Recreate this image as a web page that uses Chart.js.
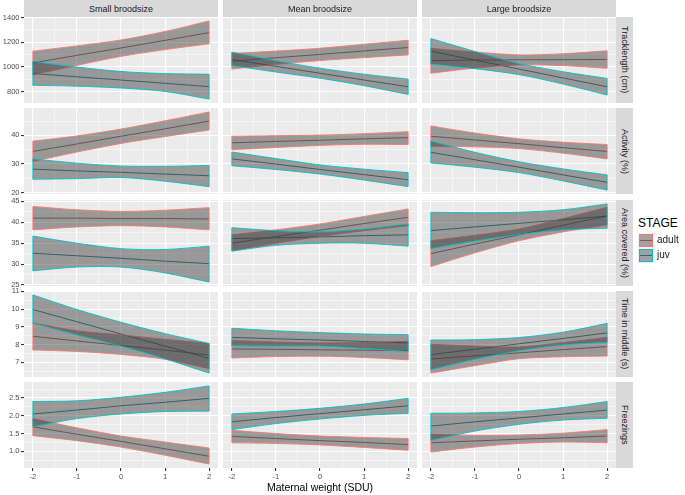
<!DOCTYPE html>
<html>
<head>
<meta charset="utf-8">
<script src="https://cdn.jsdelivr.net/npm/chart.js@4.4.1/dist/chart.umd.min.js"></script>
<style>
  body { margin: 0; background: #fff; }
  #plot { position: relative; width: 685px; height: 495px; overflow: hidden; font-family: "Liberation Sans", Arial, sans-serif; }
  #plot canvas { position: absolute; }
  .strip { position: absolute; background: #D9D9D9; color: #1A1A1A; font-size: 9px; display: flex; align-items: center; justify-content: center; }
  .rstrip { writing-mode: vertical-rl; }
  .xtitle { position: absolute; left: 24px; width: 592px; top: 481px; text-align: center; font-size: 10.5px; color: #000; }
  .legtitle { position: absolute; left: 638px; top: 216px; font-size: 12px; color: #000; }
  .key { position: absolute; left: 638px; width: 16px; height: 15px; background: #F2F2F2; }
  .key .box { position: absolute; left: 1px; top: 1px; width: 12px; height: 11px; background: #A2A2A2; border: 1px solid; }
  .key .mid { position: absolute; left: 2px; top: 7px; width: 12px; height: 1px; }
  .keylab { position: absolute; left: 657px; font-size: 10px; color: #1A1A1A; }
</style>
</head>
<body>
<div id="plot"></div>
<script>
  const xValues = [-2, -1, 0, 1, 2];
  const xTickLabels = ['-2', '-1', '0', '1', '2'];
  const columns = ['Small broodsize', 'Mean broodsize', 'Large broodsize'];
  const rowLabels = ['Tracklength (cm)', 'Activity (%)', 'Area covered (%)', 'Time in middle (s)', 'Freezings'];
  const yTickLabels = [
    ['800', '1000', '1200', '1400'],
    ['20', '30', '40'],
    ['25', '30', '35', '40', '45'],
    ['7', '8', '9', '10', '11'],
    ['1.0', '1.5', '2.0', '2.5']
  ];

  // each: [row][column] -> values at xValues
  const adultFit = [
    [[1032, 1093, 1153, 1215, 1278], [1046, 1074, 1101, 1129, 1157], [1050, 1055, 1057, 1058, 1060]],
    [[34.4, 37.0, 39.7, 42.3, 45.0], [37.4, 37.9, 38.3, 38.8, 39.2], [39.7, 38.4, 37.1, 35.7, 34.4]],
    [[41.0, 41.0, 40.9, 40.9, 40.8], [35.0, 36.6, 38.1, 39.7, 41.2], [32.5, 34.8, 37.0, 39.3, 41.5]],
    [[8.47, 8.21, 7.95, 7.69, 7.42], [7.76, 7.74, 7.71, 7.69, 7.66], [7.19, 7.37, 7.54, 7.72, 7.89]],
    [[1.69, 1.48, 1.28, 1.07, 0.86], [1.42, 1.36, 1.30, 1.25, 1.19], [1.24, 1.29, 1.34, 1.38, 1.43]]
  ];
  const adultHi = [
    [[1127, 1170, 1218, 1287, 1373], [1108, 1128, 1151, 1183, 1216], [1150, 1120, 1097, 1106, 1130]],
    [[38.0, 39.8, 42.2, 45.1, 48.2], [39.7, 39.9, 40.1, 40.6, 41.3], [43.3, 40.8, 38.8, 37.6, 36.8]],
    [[43.8, 43.0, 42.6, 42.9, 43.5], [37.0, 38.2, 39.6, 41.4, 43.2], [35.6, 36.9, 38.4, 40.9, 43.6]],
    [[9.22, 8.78, 8.55, 8.30, 8.07], [8.23, 8.15, 8.10, 8.12, 8.19], [8.02, 7.92, 7.87, 8.12, 8.41]],
    [[1.92, 1.66, 1.43, 1.26, 1.09], [1.59, 1.50, 1.43, 1.39, 1.36], [1.48, 1.45, 1.46, 1.51, 1.61]]
  ];
  const adultLo = [
    [[935, 1012, 1085, 1140, 1187], [982, 1020, 1051, 1075, 1097], [948, 990, 1017, 1010, 988]],
    [[30.9, 34.2, 37.2, 39.6, 41.9], [35.0, 35.8, 36.5, 36.9, 36.8], [36.2, 36.0, 35.4, 33.8, 31.8]],
    [[38.2, 38.9, 39.2, 38.9, 38.2], [33.2, 35.0, 36.6, 38.0, 39.2], [29.4, 32.7, 35.6, 37.7, 39.4]],
    [[7.70, 7.62, 7.45, 7.18, 6.65], [7.25, 7.33, 7.35, 7.28, 7.15], [6.40, 6.82, 7.21, 7.32, 7.36]],
    [[1.44, 1.30, 1.12, 0.89, 0.64], [1.24, 1.22, 1.18, 1.11, 1.03], [0.98, 1.12, 1.22, 1.26, 1.24]]
  ];
  const juvFit = [
    [[946, 919, 893, 866, 839], [1059, 1004, 948, 893, 838], [1127, 1055, 982, 910, 838]],
    [[28.2, 27.6, 27.1, 26.5, 25.9], [31.8, 30.0, 28.1, 26.3, 24.5], [34.1, 31.5, 28.9, 26.2, 23.6]],
    [[32.6, 32.0, 31.4, 30.7, 30.1], [36.1, 36.3, 36.5, 36.8, 37.0], [38.0, 38.9, 39.75, 40.6, 41.5]],
    [[9.98, 9.29, 8.60, 7.92, 7.23], [8.41, 8.33, 8.26, 8.18, 8.10], [7.44, 7.74, 8.05, 8.35, 8.66]],
    [[2.05, 2.16, 2.28, 2.38, 2.49], [1.83, 1.95, 2.06, 2.17, 2.28], [1.71, 1.83, 1.94, 2.05, 2.16]]
  ];
  const juvHi = [
    [[1044, 998, 962, 945, 940], [1120, 1050, 989, 940, 900], [1230, 1125, 1027, 960, 906]],
    [[31.8, 30.3, 29.3, 29.2, 29.5], [34.2, 31.9, 29.7, 28.2, 27.0], [38.0, 34.1, 30.8, 28.3, 26.2]],
    [[36.7, 35.0, 33.7, 33.5, 34.3], [38.7, 38.0, 37.7, 38.4, 39.6], [42.4, 42.3, 42.4, 43.0, 44.4]],
    [[10.80, 9.98, 9.26, 8.62, 8.07], [8.92, 8.78, 8.68, 8.60, 8.56], [8.26, 8.28, 8.40, 8.70, 9.20]],
    [[2.40, 2.42, 2.52, 2.66, 2.84], [2.05, 2.12, 2.21, 2.33, 2.49], [2.07, 2.08, 2.12, 2.23, 2.40]]
  ];
  const juvLo = [
    [[850, 843, 828, 800, 738], [1010, 958, 908, 847, 776], [1022, 985, 937, 860, 771]],
    [[24.7, 24.9, 25.3, 24.0, 22.1], [29.4, 28.1, 26.5, 24.4, 22.1], [30.4, 28.9, 27.0, 24.1, 20.9]],
    [[28.4, 29.3, 29.3, 27.9, 25.7], [33.1, 34.5, 35.0, 35.0, 34.3], [33.7, 35.5, 37.1, 38.2, 38.6]],
    [[9.20, 8.55, 7.92, 7.20, 6.40], [7.94, 7.92, 7.92, 7.78, 7.62], [6.59, 7.18, 7.66, 7.98, 8.13]],
    [[1.69, 1.92, 2.05, 2.12, 2.13], [1.61, 1.78, 1.91, 2.01, 2.07], [1.31, 1.57, 1.76, 1.88, 1.93]]
  ];

  const adultCol = '#F8766D', juvCol = '#00BFC4';
  const adultLine = '#9A514C', juvLine = '#1B7578';
  const ribbonFill = 'rgba(60,60,60,0.47)';

  const colLeft = [24, 223, 422], panelW = 194;
  const rowTop = [17, 108, 200, 291, 382], panelH = 86;
  const pad = 6, yAxisW = 24, xAxisH = 14;
  const tickFont = { family: '"Liberation Sans", Arial, sans-serif', size: 7.5 };

  const plot = document.getElementById('plot');

  const panelBg = {
    id: 'panelBg',
    beforeDraw(chart) {
      const { ctx, chartArea: a } = chart;
      ctx.save();
      ctx.fillStyle = '#EBEBEB';
      ctx.fillRect(a.left, a.top, a.right - a.left, a.bottom - a.top);
      ctx.restore();
    }
  };

  const pts = arr => xValues.map((x, i) => ({ x: x, y: arr[i] }));

  // major ticks plus ggplot-style minor ticks half way between
  const tickSet = (majors, min, max) => {
    const step = majors[1] - majors[0];
    const out = [];
    for (let v = majors[0] - step; v <= majors[majors.length - 1] + step + 1e-9; v += step / 2) {
      const val = Math.round(v * 1e6) / 1e6;
      if (val >= min && val <= max) out.push(val);
    }
    return out;
  };
  const isMajor = (majors, v) => majors.some(m => Math.abs(m - v) < 1e-6);

  const ribbon = (hi, lo, col, order) => [
    { data: pts(hi), borderColor: col, borderWidth: 0.9, fill: '+1', backgroundColor: ribbonFill, tension: 0.3, order: order },
    { data: pts(lo), borderColor: col, borderWidth: 0.9, fill: false, tension: 0.3, order: order - 1 },
    { data: [{ x: xValues[0], y: lo[0] }, { x: xValues[0], y: hi[0] }, { x: 0, y: null },
             { x: xValues[4], y: lo[4] }, { x: xValues[4], y: hi[4] }],
      borderColor: col, borderWidth: 0.9, fill: false, spanGaps: false, order: order - 2 }
  ];

  const xMajors = xTickLabels.map(Number);
  const xMin = -2.2, xMax = 2.2;

  rowLabels.forEach((rowLabel, r) => {
    const majors = yTickLabels[r].map(Number);
    let lo = Infinity, hi = -Infinity;
    for (let c = 0; c < 3; c++) {
      lo = Math.min(lo, ...adultLo[r][c], ...juvLo[r][c]);
      hi = Math.max(hi, ...adultHi[r][c], ...juvHi[r][c]);
    }
    const yMin = lo - (hi - lo) * 0.05, yMax = hi + (hi - lo) * 0.05;
    const yTicks = tickSet(majors, yMin, yMax);
    const xTicks = tickSet(xMajors, xMin, xMax);

    columns.forEach((colLabel, c) => {
      const first = c === 0, bottom = r === rowLabels.length - 1;
      const cv = document.createElement('canvas');
      const w = panelW + (first ? yAxisW : 0);
      const h = panelH + pad + (bottom ? xAxisH : pad);
      cv.width = w; cv.height = h;
      cv.style.width = w + 'px'; cv.style.height = h + 'px';
      cv.style.left = (colLeft[c] - (first ? yAxisW : 0)) + 'px';
      cv.style.top = (rowTop[r] - pad) + 'px';
      plot.appendChild(cv);

      const datasets = [
        { data: pts(adultFit[r][c]), borderColor: adultLine, borderWidth: 0.9, fill: false, order: 9 },
        { data: pts(juvFit[r][c]), borderColor: juvLine, borderWidth: 0.9, fill: false, order: 8 },
        ...ribbon(adultHi[r][c], adultLo[r][c], adultCol, 7),
        ...ribbon(juvHi[r][c], juvLo[r][c], juvCol, 3)
      ];

      new Chart(cv, {
        type: 'scatter',
        data: { datasets: datasets.map(d => Object.assign({ showLine: true, pointRadius: 0 }, d)) },
        options: {
          responsive: false,
          animation: false,
          devicePixelRatio: 1,
          layout: { padding: { top: pad, bottom: bottom ? 0 : pad, left: 0, right: 0 } },
          plugins: { legend: { display: false }, tooltip: { enabled: false } },
          scales: {
            x: {
              type: 'linear', min: xMin, max: xMax,
              afterBuildTicks: s => { s.ticks = xTicks.map(v => ({ value: v })); },
              afterFit: s => { s.height = bottom ? xAxisH : 0; s.paddingLeft = 0; s.paddingRight = 0; },
              border: { display: false },
              grid: {
                color: '#FFFFFF',
                lineWidth: ctx => isMajor(xMajors, ctx.tick.value) ? 1.1 : 0.5,
                drawTicks: bottom, tickLength: 3,
                tickColor: ctx => isMajor(xMajors, ctx.tick.value) ? '#333333' : 'rgba(0,0,0,0)'
              },
              ticks: {
                display: bottom, autoSkip: false, maxRotation: 0, padding: 1,
                color: '#4D4D4D', font: tickFont,
                callback: v => isMajor(xMajors, v) ? xTickLabels[xMajors.findIndex(m => Math.abs(m - v) < 1e-6)] : ''
              }
            },
            y: {
              type: 'linear', min: yMin, max: yMax,
              afterBuildTicks: s => { s.ticks = yTicks.map(v => ({ value: v })); },
              afterFit: s => { s.width = first ? yAxisW : 0; s.paddingTop = 0; s.paddingBottom = 0; },
              border: { display: false },
              grid: {
                color: '#FFFFFF',
                lineWidth: ctx => isMajor(majors, ctx.tick.value) ? 1.1 : 0.5,
                drawTicks: first, tickLength: 3,
                tickColor: ctx => isMajor(majors, ctx.tick.value) ? '#333333' : 'rgba(0,0,0,0)'
              },
              ticks: {
                display: first, autoSkip: false, padding: 1.5,
                color: '#4D4D4D', font: tickFont,
                callback: v => isMajor(majors, v) ? yTickLabels[r][majors.findIndex(m => Math.abs(m - v) < 1e-6)] : ''
              }
            }
          }
        },
        plugins: [panelBg]
      });
    });

    const rs = document.createElement('div');
    rs.className = 'strip rstrip';
    rs.style.left = '616px'; rs.style.width = '17px';
    rs.style.top = rowTop[r] + 'px'; rs.style.height = panelH + 'px';
    rs.textContent = rowLabel;
    plot.appendChild(rs);
  });

  columns.forEach((label, c) => {
    const s = document.createElement('div');
    s.className = 'strip';
    s.style.left = colLeft[c] + 'px'; s.style.width = panelW + 'px';
    s.style.top = '0px'; s.style.height = '17px';
    s.textContent = label;
    plot.appendChild(s);
  });

  const xt = document.createElement('div');
  xt.className = 'xtitle';
  xt.textContent = 'Maternal weight (SDU)';
  plot.appendChild(xt);

  const lt = document.createElement('div');
  lt.className = 'legtitle';
  lt.textContent = 'STAGE';
  plot.appendChild(lt);

  [['adult', adultCol, adultLine], ['juv', juvCol, juvLine]].forEach(([name, col, lineCol], i) => {
    const k = document.createElement('div');
    k.className = 'key';
    k.style.top = (233 + i * 15) + 'px';
    k.innerHTML = '<div class="box" style="border-color:' + col + '"></div><div class="mid" style="background:' + lineCol + '"></div>';
    plot.appendChild(k);
    const l = document.createElement('div');
    l.className = 'keylab';
    l.style.top = (234 + i * 15) + 'px';
    l.textContent = name;
    plot.appendChild(l);
  });
</script>
</body>
</html>
